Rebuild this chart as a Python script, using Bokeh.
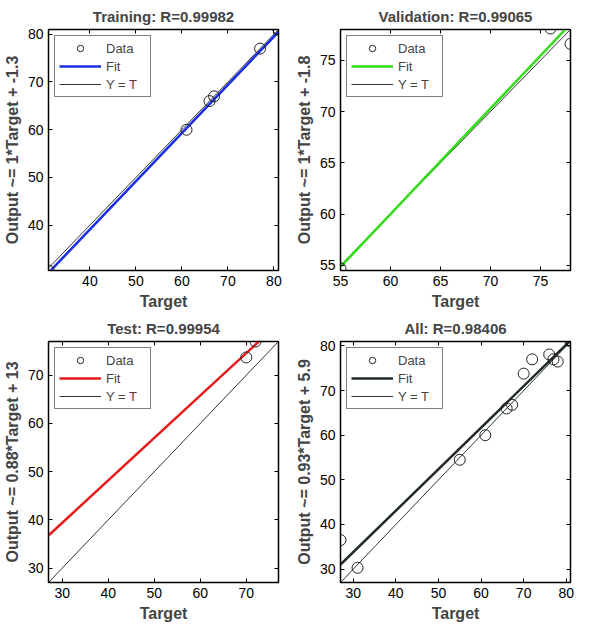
from bokeh.plotting import figure
from bokeh.layouts import gridplot
from bokeh.models import FixedTicker, LinearAxis, Legend, LegendItem
from bokeh.embed import file_html
from bokeh.resources import INLINE

titles = ["Training: R=0.99982", "Validation: R=0.99065", "Test: R=0.99954", "All: R=0.98406"]
ylabels = ["Output ~= 1*Target + -1.3", "Output ~= 1*Target + -1.8",
           "Output ~= 0.88*Target + 13", "Output ~= 0.93*Target + 5.9"]
fit_colors = ["#1a2ee6", "#33dd1a", "#e61a1a", "#1f2a26"]
train_t = [31, 61, 66, 67, 77, 81]
train_o = [30.5, 60, 66, 67, 77, 81]
val_t = [55, 76, 78]
val_o = [54.7, 78.1, 76.6]
test_t = [70, 72]
test_o = [73.7, 77]
all_t = [27, 31, 55, 61, 66, 67.3, 70, 72, 76, 77, 78, 81]
all_o = [36.5, 30.3, 54.5, 60, 66, 66.8, 73.8, 77, 78.1, 77, 76.5, 81]
fit_slope = [1.01, 1.03, 0.88, 0.93]
fit_icpt = [-1.3, -1.8, 13, 5.9]
xr = [(31, 81), (55, 78), (27, 77), (27, 81)]
yr = [(30.5, 81), (54.5, 78), (27, 77), (27, 81)]
ticks = [[40, 50, 60, 70, 80], [55, 60, 65, 70, 75], [30, 40, 50, 60, 70], [30, 40, 50, 60, 70, 80]]
data = [(train_t, train_o), (val_t, val_o), (test_t, test_o), (all_t, all_o)]

FONT = "Liberation Sans"
figs = []
for i in range(4):
    p = figure(width=292, height=312, x_range=xr[i], y_range=yr[i], output_backend="svg",
               toolbar_location=None, title=titles[i], min_border_left=8, min_border_right=14,
               min_border_top=4, min_border_bottom=4)
    p.title.align = "center"
    p.title.text_font = FONT
    p.title.text_font_size = "15px"
    p.title.text_font_style = "bold"
    p.grid.visible = False
    p.outline_line_color = "black"
    p.outline_line_width = 1.5
    for ax in [p.xaxis[0], p.yaxis[0]]:
        ax.ticker = FixedTicker(ticks=ticks[i])
        ax.major_tick_in = 4
        ax.major_tick_out = 0
        ax.minor_tick_line_color = None
        ax.axis_line_color = "black"
        ax.major_label_text_font = FONT
        ax.major_label_text_font_size = "14px"
        ax.major_label_text_color = "black"
        ax.axis_label_text_font = FONT
        ax.axis_label_text_font_size = "16px"
        ax.axis_label_text_font_style = "bold"
        ax.axis_label_standoff = 4
    p.xaxis.axis_label = "Target"
    p.yaxis.axis_label = ylabels[i]
    for loc in ["right", "above"]:
        a = LinearAxis(ticker=FixedTicker(ticks=ticks[i]), major_tick_in=4, major_tick_out=0,
                       minor_tick_line_color=None, major_label_text_font_size="0px",
                       axis_line_color="black")
        p.add_layout(a, loc)
    x0, x1 = xr[i]
    t, o = data[i]
    r_id = p.line([x0, x1], [x0, x1], line_color="#333333", line_width=1)
    r_fit = p.line([x0, x1], [fit_slope[i] * x0 + fit_icpt[i], fit_slope[i] * x1 + fit_icpt[i]],
                   line_color=fit_colors[i], line_width=2.5)
    r_dat = p.scatter(t, o, marker="circle", size=11, fill_color=None, line_color="#222222", line_width=1)
    leg = Legend(items=[LegendItem(label="Data", renderers=[r_dat]),
                        LegendItem(label="Fit", renderers=[r_fit]),
                        LegendItem(label="Y = T", renderers=[r_id])],
                 location="top_left", border_line_color="black", border_line_width=1,
                 label_text_font=FONT, label_text_font_size="13px", spacing=2, padding=4,
                 margin=6, glyph_width=42, label_height=16, glyph_height=16, label_width=40)
    p.add_layout(leg)
    figs.append(p)

g = gridplot([[figs[0], figs[1]], [figs[2], figs[3]]], toolbar_location=None)
open("out.html", "w").write(file_html(g, INLINE))
